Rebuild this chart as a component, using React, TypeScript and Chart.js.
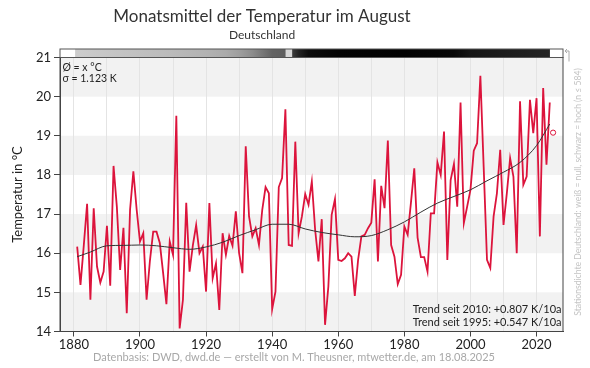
import React, { useEffect, useRef } from "react";
import { Chart, registerables } from "chart.js";

Chart.register(...registerables);

// ---------- data ----------
const FIRST_YEAR = 1881;
const augustMeans = [
  16.17, 15.19, 16.2, 17.26, 14.81, 17.15, 15.66, 15.25, 15.53, 16.7, // 1881-1890
  15.17, 18.23, 17.19, 15.57, 16.65, 14.47, 17.11, 18.09, 17.11, 16.3, // 1891-1900
  16.51, 14.81, 15.8, 16.55, 16.55, 16.26, 15.5, 14.7, 16.3, 15.96, // 1901-1910
  19.51, 14.08, 14.81, 17.29, 15.53, 16.2, 16.72, 16.0, 16.17, 15.02, // 1911-1920
  17.28, 15.36, 15.74, 14.55, 16.51, 15.96, 16.44, 16.19, 17.07, 16.0, // 1921-1930
  15.49, 18.73, 16.94, 16.43, 16.64, 16.21, 17.11, 17.69, 17.53, 14.57, // 1931-1940
  15.02, 17.69, 17.92, 19.68, 16.21, 16.19, 18.85, 16.51, 16.94, 17.51, // 1941-1950
  17.24, 17.83, 16.6, 15.79, 16.87, 14.17, 15.15, 16.98, 17.38, 15.83, // 1951-1960
  15.8, 15.87, 16.0, 15.91, 14.91, 15.83, 16.43, 16.47, 16.64, 16.78, // 1961-1970
  17.89, 15.79, 17.72, 17.15, 18.88, 16.21, 15.91, 15.21, 15.45, 16.68, // 1971-1980
  16.47, 17.3, 18.17, 16.4, 15.9, 15.9, 15.53, 17.02, 17.02, 18.32, // 1981-1990
  18.0, 19.11, 15.83, 17.87, 18.28, 17.19, 19.85, 16.77, 17.19, 17.62, // 1991-2000
  18.62, 18.81, 20.53, 18.2, 15.83, 15.62, 16.94, 17.53, 18.64, 16.72, // 2001-2010
  17.53, 18.43, 17.96, 16.0, 19.88, 17.75, 17.96, 19.92, 19.07, 19.96, // 2011-2020
  16.43, 20.22, 18.26, 19.85, // 2021-2024
];
const smoothYears = [1881, 1885, 1890, 1895, 1900, 1905, 1910, 1915, 1920, 1925, 1930, 1935, 1940, 1945, 1950, 1955, 1960, 1965, 1970, 1975, 1980, 1985, 1990, 1995, 2000, 2005, 2010, 2015, 2020, 2024];
const smoothValues = [15.91, 16.03, 16.19, 16.2, 16.21, 16.19, 16.14, 16.1, 16.16, 16.28, 16.45, 16.6, 16.74, 16.74, 16.62, 16.53, 16.47, 16.42, 16.45, 16.6, 16.8, 17.05, 17.28, 17.45, 17.62, 17.85, 18.07, 18.32, 18.75, 19.3];
const currentYear = [2025];
const currentValue = [19.08];

const gridYears = [1880, 1890, 1900, 1910, 1920, 1930, 1940, 1950, 1960, 1970, 1980, 1990, 2000, 2010, 2020];
const bandRanges = [[14, 15], [16, 17], [18, 19], [20, 21]];

// station density strip (grey level, 255 = none, 0 = many)
const densityYears = [1875.8, 1880.4, 1880.5, 1890, 1900, 1910, 1920, 1926, 1930, 1934, 1937, 1940, 1943.9, 1944.2, 1945.9, 1946.2, 1948, 1951, 1960, 1980, 1995, 2000, 2010, 2020, 2023.9, 2024.1, 2028];
const densityGray = [255, 255, 205, 198, 192, 186, 178, 170, 158, 140, 120, 100, 95, 215, 215, 60, 35, 12, 4, 2, 8, 22, 28, 34, 36, 255, 255];

const TITLE = "Monatsmittel der Temperatur im August";
const SUBTITLE = "Deutschland";
const MEAN_TEXT = "Ø = x °C";
const SIGMA_TEXT = "σ = 1.123 K";
const TREND_LINES = ["Trend seit 2010: +0.807 K/10a", "Trend seit 1995: +0.547 K/10a"];
const FOOTER = "Datenbasis: DWD, dwd.de — erstellt von M. Theusner, mtwetter.de, am 18.08.2025";
const SIDE_NOTE = "Stationsdichte Deutschland: weiß = null, schwarz = hoch (n ≤ 584)";

const FONT = "Lato, 'Open Sans', sans-serif";

const decor = {
  id: "decor",
  beforeDraw(chart: any) {
    const { ctx, chartArea: a, scales } = chart;
    const y = scales.y;
    ctx.save();
    ctx.fillStyle = "#ffffff";
    ctx.fillRect(0, 0, chart.width, chart.height);
    ctx.fillStyle = "#f2f2f2";
    for (const [lo, hi] of bandRanges) {
      const yt = y.getPixelForValue(hi);
      const yb = y.getPixelForValue(lo);
      ctx.fillRect(a.left, yt, a.right - a.left, yb - yt);
    }
    ctx.restore();
  },
  afterDraw(chart: any) {
    const { ctx, chartArea: a, scales } = chart;
    const x = scales.x;
    ctx.save();
    // frame
    ctx.strokeStyle = "#444";
    ctx.lineWidth = 1;
    ctx.strokeRect(a.left, a.top, a.right - a.left, a.bottom - a.top);

    // density strip
    const barTop = a.top - 8.5;
    const w = a.right - a.left;
    const g = ctx.createLinearGradient(a.left, 0, a.right, 0);
    densityYears.forEach((yr, i) => {
      const p = Math.min(1, Math.max(0, (x.getPixelForValue(yr) - a.left) / w));
      const v = densityGray[i];
      g.addColorStop(p, `rgb(${v},${v},${v})`);
    });
    ctx.fillStyle = g;
    ctx.fillRect(a.left, barTop, w, a.top - barTop);
    ctx.strokeStyle = "#555";
    ctx.strokeRect(a.left, barTop, w, a.top - barTop);

    // small arrow
    ctx.strokeStyle = "#aaa";
    ctx.beginPath();
    ctx.moveTo(a.right + 6, a.top + 4);
    ctx.lineTo(a.right + 6, barTop + 2);
    ctx.lineTo(a.right + 2, barTop + 2);
    ctx.moveTo(a.right + 4, barTop);
    ctx.lineTo(a.right + 2, barTop + 2);
    ctx.lineTo(a.right + 4, barTop + 4);
    ctx.stroke();

    // titles
    ctx.fillStyle = "#333";
    ctx.textAlign = "center";
    ctx.textBaseline = "alphabetic";
    ctx.font = `17px ${FONT}`;
    ctx.fillText(TITLE, 262, 21.7);
    ctx.font = `12px ${FONT}`;
    ctx.fillText(SUBTITLE, 262, 39);

    // stats box
    ctx.textAlign = "left";
    ctx.fillStyle = "#222";
    ctx.font = `10.5px ${FONT}`;
    ctx.fillText(MEAN_TEXT, a.left + 2.5, 71);
    ctx.fillText(SIGMA_TEXT, a.left + 2.5, 81.5);

    // trend
    ctx.textAlign = "right";
    ctx.font = `11px ${FONT}`;
    ctx.fillText(TREND_LINES[0], a.right - 1.5, 313.3);
    ctx.fillText(TREND_LINES[1], a.right - 1.5, 325.7);

    // footer
    ctx.textAlign = "center";
    ctx.fillStyle = "#a8a8a8";
    ctx.font = `11px ${FONT}`;
    ctx.fillText(FOOTER, 294, 361);

    // side note
    ctx.translate(578.5, 192);
    ctx.rotate(-Math.PI / 2);
    ctx.fillStyle = "#c4c4c4";
    ctx.font = `8.6px ${FONT}`;
    ctx.textBaseline = "middle";
    ctx.fillText(SIDE_NOTE, 0, 0);
    ctx.restore();
  },
};

export default function App() {
  const ref = useRef<HTMLCanvasElement | null>(null);
  useEffect(() => {
    if (!ref.current) return;
    const years = augustMeans.map((_, i) => FIRST_YEAR + i);
    const chart = new Chart(ref.current, {
      type: "line",
      data: {
        datasets: [
          {
            label: "Glättung",
            data: smoothYears.map((yr, i) => ({ x: yr, y: smoothValues[i] })),
            borderColor: "#333",
            borderWidth: 1,
            pointRadius: 0,
            cubicInterpolationMode: "monotone",
            order: 0,
          },
          {
            label: "August",
            data: years.map((yr, i) => ({ x: yr, y: augustMeans[i] })),
            borderColor: "#dc143c",
            borderWidth: 1.8,
            pointRadius: 0,
            tension: 0,
            order: 1,
          },
          {
            label: "2025",
            data: currentYear.map((yr, i) => ({ x: yr, y: currentValue[i] })),
            showLine: false,
            pointRadius: 2.6,
            borderColor: "#dc143c",
            backgroundColor: "#ffffff",
            borderWidth: 1,
            order: 0,
          },
        ],
      },
      options: {
        responsive: false,
        animation: false,
        events: [],
        layout: { padding: { top: 57.5, right: 27, left: 0, bottom: 0 } },
        plugins: { legend: { display: false }, tooltip: { enabled: false }, title: { display: false } },
        scales: {
          x: {
            type: "linear",
            min: 1875.8,
            max: 2028,
            afterBuildTicks: (s: any) => {
              s.ticks = gridYears.map((v) => ({ value: v }));
            },
            afterFit: (s: any) => {
              s.height = 36.5;
            },
            ticks: {
              autoSkip: false,
              maxRotation: 0,
              padding: 1,
              color: "#222",
              font: { family: FONT, size: 13 },
              callback: (v: any) => (Number(v) % 20 === 0 ? String(v) : ""),
            },
            grid: {
              color: "#e4e4e4",
              tickLength: 5,
              tickColor: (c: any) => (c.tick && c.tick.value % 20 === 0 ? "#444" : "rgba(0,0,0,0)"),
            },
            border: { color: "#444" },
          },
          y: {
            min: 14,
            max: 21,
            afterFit: (s: any) => {
              s.width = 60;
            },
            ticks: { stepSize: 1, padding: 3, color: "#222", font: { family: FONT, size: 13 } },
            grid: { color: "rgba(0,0,0,0)", tickColor: "#444", tickLength: 6 },
            border: { color: "#444" },
            title: { display: true, text: "Temperatur in °C", color: "#222", font: { family: FONT, size: 13 }, padding: { top: 10, bottom: 0 } },
          },
        },
      },
      plugins: [decor],
    });
    return () => chart.destroy();
  }, []);
  return (
    <div style={{ position: "fixed", left: 0, top: 0, width: 590, height: 368, background: "#fff" }}>
      <canvas ref={ref} width={590} height={368} style={{ display: "block" }} />
    </div>
  );
}
